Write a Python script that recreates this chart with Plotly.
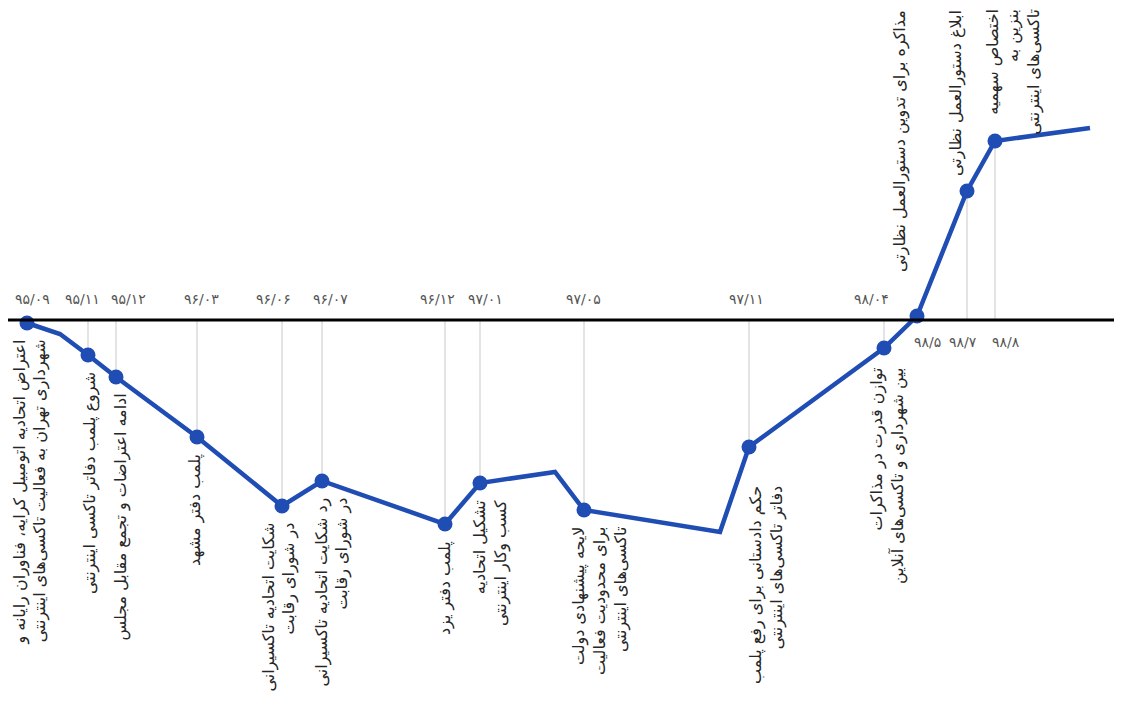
import plotly.graph_objects as go

# timeline position (x) and level relative to the baseline (y)
dates = ["۹۵/۰۹", "۹۵/۱۱", "۹۵/۱۲", "۹۶/۰۳", "۹۶/۰۶", "۹۶/۰۷", "۹۶/۱۲",
         "۹۷/۰۱", "۹۷/۰۵", "۹۷/۱۱", "۹۸/۰۴", "۹۸/۵", "۹۸/۷", "۹۸/۸"]
event_x = [27, 88, 116, 197, 282, 322, 445, 480, 584, 749, 884, 917, 967, 995]
event_y = [-3, -35, -57, -117, -186, -161, -204, -163, -190, -127, -28, 4, 129, 179]

# full path, including the bends that carry no event
path_x = [27, 60, 88, 116, 197, 282, 322, 445, 480, 555, 584, 720, 749, 884, 917, 967, 995, 1090]
path_y = [-3, -14, -35, -57, -117, -186, -161, -204, -163, -152, -190, -212, -127, -28, 4, 129, 179, 192]

events = [
    "اعتراض اتحادیه اتومبیل کرایه، فناوران رایانه و<br>شهرداری تهران به فعالیت تاکسی‌های اینترنتی",
    "شروع پلمب دفاتر تاکسی اینترنتی",
    "ادامه اعتراضات و تجمع مقابل مجلس",
    "پلمب دفتر مشهد",
    "شکایت اتحادیه تاکسیرانی<br>در شورای رقابت",
    "رد شکایت اتحادیه تاکسیرانی<br>در شورای رقابت",
    "پلمب دفتر یزد",
    "تشکیل اتحادیه<br>کسب وکار اینترنتی",
    "لایحه پیشنهادی دولت<br>برای محدودیت فعالیت<br>تاکسی‌های اینترنتی",
    "حکم دادستانی برای رفع پلمب<br>دفاتر تاکسی‌های اینترنتی",
    "توازن قدرت در مذاکرات<br>بین شهرداری و تاکسی‌های آنلاین",
    "مذاکره برای تدوین دستورالعمل نظارتی",
    "ابلاغ دستورالعمل نظارتی",
    "اختصاص سهمیه<br>بنزین به<br>تاکسی‌های اینترنتی",
]
# dates 98/5 onwards are printed under the baseline, their notes at the top
date_below = [False] * 11 + [True] * 3

# small nudges so labels sit where the original puts them
date_dx = [5, -6, 12, 4, -9, 8, -8, 5, -1, -3, -13, 10, -4, 11]
text_dx = [3, 2, 4, -2, -3, 10, 0, 10, 16, 17, 3, -17, -11, 18]
text_dy = [-15, -15, -15, -15, -15, -15, -15, -15, -15, -37, -18, 0, 0, 0]

BLUE = "#1f4db4"
TEXT = "#262626"
DATE_GRAY = "#555555"
FONT = "DejaVu Sans"

# the page puts the plot 8px in from the top-left corner
OFF = 8
W, H = 1122 - OFF, 704 - OFF

fig = go.Figure()

# thin guides from baseline to each event
gx, gy = [], []
for x, y in zip(event_x, event_y):
    gx += [x, x, None]
    gy += [0, y, None]
fig.add_trace(go.Scatter(x=gx, y=gy, mode="lines",
                         line=dict(color="#c8c8c8", width=1), hoverinfo="skip"))

fig.add_hline(y=0, line=dict(color="black", width=3))

fig.add_trace(go.Scatter(x=path_x, y=path_y, mode="lines",
                         line=dict(color=BLUE, width=4.5), hoverinfo="skip"))
fig.add_trace(go.Scatter(x=event_x, y=event_y, mode="markers",
                         marker=dict(color=BLUE, size=15), hoverinfo="skip"))

for x, d, below, dx in zip(event_x, dates, date_below, date_dx):
    fig.add_annotation(x=x, y=0, text=d, showarrow=False,
                       yanchor="top" if below else "bottom",
                       xshift=dx, yshift=-12 if below else 11,
                       font=dict(family=FONT, size=14, color=DATE_GRAY))

for x, y, t, top, dx, dy in zip(event_x, event_y, events, date_below, text_dx, text_dy):
    fig.add_annotation(x=x, y=312 if top else y, text=t, showarrow=False,
                       textangle=-90, xanchor="center", yanchor="top",
                       align="right", xshift=dx, yshift=dy,
                       font=dict(family=FONT, size=16, color=TEXT))

fig.update_layout(
    width=W,
    height=H,
    margin=dict(l=0, r=0, t=0, b=0),
    paper_bgcolor="white",
    plot_bgcolor="white",
    showlegend=False,
    hovermode=False,
)
fig.update_xaxes(range=[OFF, OFF + W], visible=False)
fig.update_yaxes(range=[320 - OFF - H, 320 - OFF], visible=False)

fig.write_html("out.html")
